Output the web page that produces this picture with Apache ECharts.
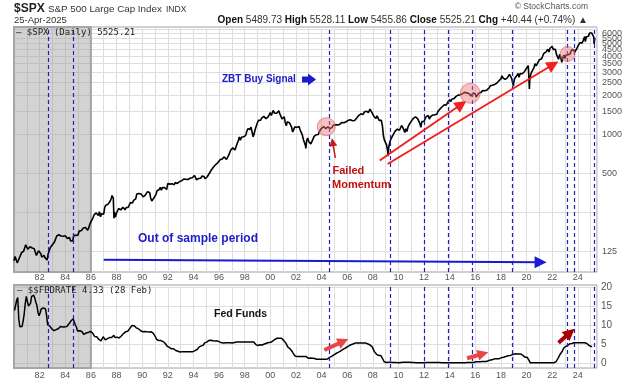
<!DOCTYPE html>
<html><head><meta charset="utf-8">
<script src="https://cdn.jsdelivr.net/npm/echarts@6/dist/echarts.min.js"></script>
<style>html,body{margin:0;padding:0;background:#fff}#c{width:638px;height:384px}</style>
</head><body><div id="c"></div>
<script>
// ---- S&P 500 monthly closes (Jan..Dec each year) ----
const spx1980s = [
114.2,113.7,102.1,106.3,111.2,114.2,121.7,122.4,125.5,127.5,140.5,135.8,
129.6,131.3,136.0,132.8,132.6,131.2,130.9,122.8,116.2,121.9,126.4,122.6,
120.4,113.1,112.0,116.4,111.9,109.6,107.1,119.5,120.4,133.7,138.5,140.6,
145.3,148.1,153.0,164.4,162.4,168.1,162.6,164.4,166.1,163.6,166.4,164.9,
163.4,157.1,159.2,160.1,150.6,153.2,150.7,166.7,166.1,166.1,163.6,167.2,
179.6,181.2,180.7,179.8,189.6,191.9,190.9,188.6,182.1,189.8,202.2,211.3,
211.8,226.9,238.9,235.5,247.4,250.8,236.1,252.9,231.3,244.0,249.2,242.2,
274.1,284.2,291.7,288.4,290.1,304.0,318.7,329.8,321.8,251.8,230.3,247.1,
257.1,267.8,258.9,261.3,262.2,273.5,272.0,261.5,271.9,279.0,273.7,277.7,
297.5,288.9,294.9,309.6,320.5,318.0,346.1,351.5,349.2,340.4,346.0,353.4];
const spx1990s = [
329.1,331.9,339.9,330.8,361.2,358.0,356.2,322.6,306.1,304.0,322.2,330.2,
343.9,367.1,375.2,375.3,389.8,371.2,387.8,395.4,387.9,392.5,375.2,417.1,
408.8,412.7,403.7,415.0,415.4,408.1,424.2,414.0,417.8,418.7,431.4,435.7,
438.8,443.4,451.7,440.2,450.2,450.5,448.1,463.6,458.9,467.8,461.8,466.5,
481.6,467.1,445.8,450.9,456.5,444.3,458.3,475.5,462.7,472.4,453.7,459.3,
470.4,487.4,500.7,514.7,533.4,544.8,562.1,561.9,584.4,581.5,605.4,615.9,
636.0,640.4,645.5,654.2,669.1,670.6,640.0,652.0,687.3,705.3,757.0,740.7,
786.2,790.8,757.1,801.3,848.3,885.1,954.3,899.5,947.3,914.6,955.4,970.4,
980.3,1049.3,1101.8,1111.8,1090.8,1133.8,1120.7,957.3,1017.0,1098.7,1163.6,1229.2,
1279.6,1238.3,1286.4,1335.2,1301.8,1372.7,1328.7,1320.4,1282.7,1362.9,1388.9,1469.3];
const spx2000s = [
1394.5,1366.4,1498.6,1452.4,1420.6,1454.6,1430.8,1517.7,1436.5,1429.4,1315.2,1320.3,
1366.0,1239.9,1160.3,1249.5,1255.8,1224.4,1211.2,1133.6,1040.9,1059.8,1139.5,1148.1,
1130.2,1106.7,1147.4,1076.9,1067.1,989.8,911.6,916.1,815.3,885.8,936.3,879.8,
855.7,841.2,848.2,916.9,963.6,974.5,990.3,1008.0,996.0,1050.7,1058.2,1111.9,
1131.1,1144.9,1126.2,1107.3,1120.7,1140.8,1101.7,1104.2,1114.6,1130.2,1173.8,1211.9,
1181.3,1203.6,1180.6,1156.9,1191.5,1191.3,1234.2,1220.3,1228.8,1207.0,1249.5,1248.3,
1280.1,1280.7,1294.8,1310.6,1270.1,1270.2,1276.7,1303.8,1335.9,1377.9,1400.6,1418.3,
1438.2,1406.8,1420.9,1482.4,1530.6,1503.4,1455.3,1474.0,1526.8,1549.4,1481.1,1468.4,
1378.6,1330.6,1322.7,1385.6,1400.4,1280.0,1267.4,1282.8,1166.4,968.8,896.2,903.3,
825.9,735.1,797.9,872.8,919.1,919.3,987.5,1020.6,1057.1,1036.2,1095.6,1115.1];
const spx2010s = [
1073.9,1104.5,1169.4,1186.7,1089.4,1030.7,1101.6,1049.3,1141.2,1183.3,1180.6,1257.6,
1286.1,1327.2,1325.8,1363.6,1345.2,1320.6,1292.3,1218.9,1131.4,1253.3,1246.9,1257.6,
1312.4,1365.7,1408.5,1397.9,1310.3,1362.2,1379.3,1406.6,1440.7,1412.2,1416.2,1426.2,
1498.1,1514.7,1569.2,1597.6,1630.7,1606.3,1685.7,1633.0,1681.6,1756.5,1805.8,1848.4,
1782.6,1859.5,1872.3,1884.0,1923.6,1960.2,1930.7,2003.4,1972.3,2018.1,2067.6,2058.9,
1995.0,2104.5,2067.9,2085.5,2107.4,2063.1,2103.8,1972.2,1920.0,2079.4,2080.4,2043.9,
1940.2,1932.2,2059.7,2065.3,2097.0,2098.9,2173.6,2171.0,2168.3,2126.2,2198.8,2238.8,
2278.9,2363.6,2362.7,2384.2,2411.8,2423.4,2470.3,2471.7,2519.4,2575.3,2647.6,2673.6,
2823.8,2713.8,2640.9,2648.1,2705.3,2718.4,2816.3,2901.5,2914.0,2711.7,2760.2,2506.9,
2704.1,2784.5,2834.4,2945.8,2752.1,2941.8,2980.4,2926.5,2976.7,3037.6,3141.0,3230.8];
const spx2020s = [
3225.5,2954.2,2584.6,2912.4,3044.3,3100.3,3271.1,3500.3,3363.0,3270.0,3621.6,3756.1,
3714.2,3811.2,3972.9,4181.2,4204.1,4297.5,4395.3,4522.7,4307.5,4605.4,4567.0,4766.2,
4515.6,4373.9,4530.4,4131.9,4132.2,3785.4,4130.3,3955.0,3585.6,3872.0,4080.1,3839.5,
4076.6,3970.2,4109.3,4169.5,4179.8,4450.4,4589.0,4507.7,4288.1,4193.8,4567.8,4769.8,
4845.7,5096.3,5254.4,5035.7,5277.5,5460.5,5522.3,5648.4,5762.5,5705.5,6032.4,5881.6,
6040.5,5954.5,5611.9,5525.2];
// intra-month extremes [decimal year, value]
const spxExtremes = [[1980.0,105.8],[1987.65,336.8],[1987.80,224.8],[1990.78,295.5],
[2000.23,1527.5],[2002.775,776.8],[2007.78,1565.2],[2009.185,676.5],[2011.76,1099.2],
[2018.98,2351.1],[2020.135,3386.2],[2020.225,2237.4],[2022.005,4796.6],[2022.78,3577.0],
[2024.54,5667.2],[2024.59,5186.3],[2025.135,6144.2],[2025.27,4982.8]];

// ---- Fed funds rate, monthly ----
const fed1980s = [
13.8,14.1,16.5,17.2,11.5,9.5,9.0,9.6,10.9,12.8,15.5,17.5,
17.0,15.0,14.7,15.7,17.5,17.9,17.8,17.0,15.9,15.1,13.3,12.4,
13.2,14.2,14.2,14.5,14.3,14.2,12.6,10.1,10.3,9.7,9.2,8.95,
8.7,8.5,8.8,8.8,8.6,9.0,9.4,9.6,9.5,9.5,9.3,9.5,
9.6,9.6,9.9,10.3,10.3,11.1,11.2,11.6,11.3,10.0,9.4,8.4,
8.35,8.5,8.6,8.3,8.0,7.5,7.9,7.9,7.9,8.0,8.05,8.3,
8.1,7.9,7.5,7.0,6.9,6.9,6.6,6.2,5.9,5.85,6.0,6.9,
6.4,6.1,6.1,6.4,6.85,6.7,6.6,6.7,7.2,7.3,6.7,6.8,
6.8,6.6,6.6,6.9,7.1,7.5,7.75,8.0,8.2,8.3,8.35,8.8,
9.1,9.35,9.85,9.85,9.8,9.5,9.25,9.0,9.0,9.0,8.55,8.45];
const fed1990s = [
8.2,8.25,8.3,8.25,8.2,8.3,8.15,8.1,8.2,8.1,7.8,7.3,
6.9,6.25,6.1,5.9,5.8,5.9,5.8,5.65,5.45,5.2,4.8,4.4,
4.0,4.1,4.0,3.75,3.8,3.75,3.25,3.3,3.2,3.1,3.1,2.9,
3.0,3.0,3.05,2.95,3.0,3.0,3.05,3.0,3.05,3.0,3.0,3.0,
3.05,3.25,3.35,3.55,4.0,4.25,4.25,4.5,4.75,4.75,5.3,5.45,
5.5,5.9,5.95,6.05,6.0,6.0,5.85,5.75,5.8,5.75,5.8,5.6,
5.55,5.2,5.3,5.2,5.25,5.4,5.3,5.2,5.3,5.25,5.3,5.3,
5.25,5.2,5.4,5.65,5.5,5.55,5.5,5.55,5.55,5.5,5.5,5.5,
5.55,5.5,5.5,5.45,5.5,5.55,5.5,5.5,5.5,5.1,4.85,4.7,
4.6,4.75,4.8,4.75,4.75,4.75,5.0,5.05,5.2,5.2,5.4,5.3];
const fed2000s = [
5.45,5.7,5.85,6.0,6.25,6.5,6.5,6.5,6.5,6.5,6.5,6.4,
5.95,5.5,5.3,4.8,4.2,3.95,3.75,3.65,3.05,2.5,2.1,1.8,
1.7,1.75,1.75,1.75,1.75,1.75,1.75,1.75,1.75,1.75,1.35,1.25,
1.25,1.3,1.25,1.25,1.25,1.2,1.0,1.0,1.0,1.0,1.0,1.0,
1.0,1.0,1.0,1.0,1.0,1.05,1.3,1.5,1.6,1.75,1.95,2.15,
2.3,2.5,2.6,2.8,3.0,3.05,3.25,3.5,3.6,3.8,4.0,4.15,
4.3,4.5,4.6,4.8,4.95,5.0,5.25,5.25,5.25,5.25,5.25,5.25,
5.25,5.25,5.25,5.25,5.25,5.25,5.25,5.0,4.95,4.75,4.5,4.25,
3.9,3.0,2.6,2.3,2.0,2.0,2.0,2.0,1.8,1.0,0.4,0.15,
0.15,0.22,0.18,0.15,0.18,0.21,0.16,0.16,0.15,0.12,0.12,0.12];
const fed2010s = [
0.11,0.13,0.16,0.2,0.2,0.18,0.18,0.19,0.19,0.19,0.19,0.18,
0.17,0.16,0.14,0.1,0.09,0.09,0.07,0.1,0.08,0.07,0.08,0.07,
0.08,0.1,0.13,0.14,0.16,0.16,0.16,0.13,0.14,0.16,0.16,0.16,
0.14,0.15,0.14,0.15,0.11,0.09,0.09,0.08,0.08,0.09,0.08,0.09,
0.07,0.07,0.08,0.09,0.09,0.1,0.09,0.09,0.09,0.09,0.09,0.12,
0.11,0.11,0.11,0.12,0.12,0.13,0.13,0.14,0.14,0.12,0.12,0.24,
0.34,0.38,0.36,0.37,0.37,0.38,0.39,0.4,0.4,0.4,0.41,0.54,
0.65,0.66,0.79,0.9,0.91,1.04,1.15,1.16,1.15,1.15,1.16,1.3,
1.41,1.42,1.51,1.69,1.7,1.82,1.91,1.91,1.95,2.19,2.2,2.27,
2.4,2.4,2.41,2.42,2.39,2.38,2.4,2.13,2.04,1.83,1.55,1.55];
const fed2020s = [
1.55,1.58,0.65,0.05,0.05,0.08,0.09,0.1,0.09,0.09,0.09,0.09,
0.09,0.08,0.07,0.07,0.06,0.08,0.1,0.09,0.08,0.08,0.08,0.08,
0.08,0.08,0.2,0.33,0.77,1.21,1.68,2.33,2.56,3.08,3.78,4.1,
4.33,4.57,4.65,4.83,5.06,5.08,5.12,5.33,5.33,5.33,5.33,5.33,
5.33,5.33,5.33,5.33,5.33,5.33,5.33,5.33,5.13,4.83,4.64,4.48,
4.33,4.33];

// ---- axes / annotations ----
const spxLabelTicks = [125,500,1000,1500,2000,2500,3000,3500,4000,4500,5000,5500,6000,6500];
const spxGridTicks = [125,250,500,1000,1500,2000,2500,3000,3500,4000,4500,5000,5500,6000,6500];
const fedTicks = [0,5,10,15,20];
const signalDates = [1982.65,1984.66,2004.6,2009.4,2012.0,2013.9,2015.75,2018.9,2023.2,2023.7,2025.28];
const shadeRange = [1980.0, 1986.0];

const L = v => Math.log10(v);
const FONT = '"Liberation Sans", Arial, sans-serif';
const MONO = '"DejaVu Sans Mono", monospace';

const monthlySpx = [].concat(spx1980s, spx1990s, spx2000s, spx2010s, spx2020s);
const spxPts = monthlySpx.map((v, i) => [1980 + (i + 1) / 12, v]).concat(spxExtremes);
spxPts.sort((a, b) => a[0] - b[0]);
const spxData = spxPts.map(p => [p[0], L(p[1])]);
const fedAll = [].concat(fed1980s, fed1990s, fed2000s, fed2010s, fed2020s);
const fedData = fedAll.map((v, i) => [1980 + (i + 0.5) / 12, v]);

function xAxisCfg(gi) {
  return {
    type: 'value', gridIndex: gi, min: 1980, max: 2025.5, interval: 1,
    axisLine: {show: false}, axisTick: {show: false},
    splitLine: {show: true, lineStyle: {color: '#dedede', width: 1}},
    axisLabel: {
      margin: gi === 0 ? 1 : 3, fontSize: 9, color: '#555', fontFamily: FONT,
      formatter: v => (Number.isInteger(v) && v % 2 === 0 && v > 1980 && v < 2025) ? String(v % 100).padStart(2, '0') : ''
    }
  };
}
const vLines = signalDates.map(d => ({xAxis: d}));
const dashStyle = {color: '#1f1fbf', width: 1.2, type: [4, 3]};
const shadeStyle = {color: 'rgba(150,150,150,0.42)', borderColor: '#a6a6a6', borderWidth: 2};

function arrow(x1, y1, x2, y2, color, width, size) {
  return [{coord: [x1, y1], symbol: 'none', lineStyle: {color, width, type: 'solid'}},
          {coord: [x2, y2], symbol: 'triangle', symbolSize: size}];
}

function txt(x, y, text, font, fill, align) {
  return {type: 'text', x, y, z: 100, zlevel: 0,
    style: {text, font, fill, align: align || 'left', verticalAlign: 'middle',
            textAlign: align || 'left', textVerticalAlign: 'middle'}};
}

const option = {
  animation: false,
  textStyle: {fontFamily: FONT},
  grid: [
    {left: 14, top: 27, width: 583, height: 245, show: true, borderColor: '#a0a0a0', borderWidth: 1},
    {left: 14, top: 285, width: 583, height: 83, show: true, borderColor: '#a0a0a0', borderWidth: 1}
  ],
  xAxis: [xAxisCfg(0), xAxisCfg(1)],
  yAxis: [
    {type: 'value', gridIndex: 0, position: 'right', min: L(86.7), max: L(6717),
     axisLine: {show: false}, axisTick: {show: false, customValues: spxGridTicks.map(L)},
     splitLine: {show: true, lineStyle: {color: '#dedede'}},
     axisLabel: {customValues: spxLabelTicks.map(L), formatter: v => String(Math.round(Math.pow(10, v))),
                 fontSize: 9, color: '#555', margin: 5, hideOverlap: false, fontFamily: FONT}},
    {type: 'value', gridIndex: 1, position: 'right', min: -1.3, max: 20.5,
     axisLine: {show: false}, axisTick: {show: false, customValues: fedTicks},
     splitLine: {show: true, lineStyle: {color: '#dedede'}},
     axisLabel: {customValues: fedTicks, fontSize: 10, color: '#555', margin: 4, fontFamily: FONT}}
  ],
  series: [
    {type: 'line', name: 'shadeTop', xAxisIndex: 0, yAxisIndex: 0, data: [], z: 1, silent: true,
     markArea: {silent: true, itemStyle: shadeStyle, data: [[{xAxis: shadeRange[0]}, {xAxis: shadeRange[1]}]]}},
    {type: 'line', name: 'SPX', xAxisIndex: 0, yAxisIndex: 0, data: spxData, z: 3,
     showSymbol: false, symbol: 'none', lineStyle: {color: '#000', width: 1.6},
     markPoint: {silent: true, label: {show: false}, symbol: 'circle',
       itemStyle: {color: 'rgba(240,115,115,0.45)', borderColor: 'rgba(215,90,90,0.6)', borderWidth: 1},
       data: [{coord: [2004.37, L(1144)], symbolSize: 18},
              {coord: [2015.6, L(2070)], symbolSize: 20},
              {coord: [2023.2, L(4160)], symbolSize: 15}]}},
    {type: 'line', name: 'sigTop', xAxisIndex: 0, yAxisIndex: 0, data: [], z: 4, silent: true,
     markLine: {silent: true, symbol: 'none', label: {show: false}, lineStyle: dashStyle, data: vLines}},
    {type: 'line', name: 'arrowsTop', xAxisIndex: 0, yAxisIndex: 0, data: [], z: 5, silent: true,
     markLine: {silent: true, label: {show: false}, lineStyle: {type: 'solid'}, data: [
       arrow(1987.0, L(108), 2021.1, L(103), '#1a1ad0', 2, 12),
       arrow(2008.54, L(628), 2014.92, L(1703), '#ee2020', 2, 12),
       arrow(2009.16, L(590), 2022.08, L(3452), '#ee2020', 2, 12),
       arrow(2005.08, L(657), 2004.87, L(870), '#c81818', 1.5, 8)
     ]}},
    {type: 'line', name: 'shadeBot', xAxisIndex: 1, yAxisIndex: 1, data: [], z: 1, silent: true,
     markArea: {silent: true, itemStyle: shadeStyle, data: [[{xAxis: shadeRange[0]}, {xAxis: shadeRange[1]}]]}},
    {type: 'line', name: 'FEDRATE', xAxisIndex: 1, yAxisIndex: 1, data: fedData, z: 3,
     showSymbol: false, symbol: 'none', lineStyle: {color: '#000', width: 1.5}},
    {type: 'line', name: 'sigBot', xAxisIndex: 1, yAxisIndex: 1, data: [], z: 4, silent: true,
     markLine: {silent: true, symbol: 'none', label: {show: false}, lineStyle: dashStyle, data: vLines}},
    {type: 'line', name: 'arrowsBot', xAxisIndex: 1, yAxisIndex: 1, data: [], z: 5, silent: true,
     markLine: {silent: true, label: {show: false}, lineStyle: {type: 'solid'}, data: [
       arrow(2004.22, 3.43, 2005.7, 5.7, '#e64848', 4, 11),
       arrow(2015.36, 1.25, 2016.6, 2.45, '#e64848', 4, 11),
       arrow(2022.5, 5.35, 2023.4, 8.0, '#a80000', 4, 12)
     ]}}
  ],
  graphic: {elements: [
    txt(14, 9, '$SPX', 'bold 12px ' + FONT, '#222'),
    txt(48, 9, 'S&P 500 Large Cap Index', '9.8px ' + FONT, '#333'),
    txt(166, 9.5, 'INDX', '8.5px ' + FONT, '#333'),
    txt(14, 20.5, '25-Apr-2025', '9.5px ' + FONT, '#333'),
    {type: 'text', x: 588, y: 20.5, z: 100, style: {
      text: '{b|Open} 5489.73 {b|High} 5528.11 {b|Low} 5455.86 {b|Close} 5525.21 {b|Chg} +40.44 (+0.74%) ▲',
      font: '10px ' + FONT, fill: '#333', align: 'right', verticalAlign: 'middle', textAlign: 'right', textVerticalAlign: 'middle',
      rich: {b: {font: 'bold 10px ' + FONT, fill: '#111'}}}},
    txt(588, 6.5, '© StockCharts.com', '8.5px ' + FONT, '#555', 'right'),
    txt(16, 33, '— $SPX (Daily) 5525.21', '9px ' + MONO, '#222'),
    txt(17, 291, '— $$FEDRATE 4.33 (28 Feb)', '9px ' + MONO, '#222'),
    txt(222, 79, 'ZBT Buy Signal', 'bold 10px ' + FONT, '#1c1ccc'),
    {type: 'polygon', z: 100, shape: {points: [[302,76.5],[308,76.5],[308,73.5],[316,79.5],[308,85.5],[308,82.5],[302,82.5]]}, style: {fill: '#1c1ccc'}},
    txt(138, 238.5, 'Out of sample period', 'bold 12px ' + FONT, '#1c1ccc'),
    txt(332.5, 171, 'Failed', 'bold 11px ' + FONT, '#c01010'),
    txt(332, 185, 'Momentum', 'bold 11px ' + FONT, '#c01010'),
    txt(214, 314, 'Fed Funds', 'bold 10.5px ' + FONT, '#111')
  ]}
};
const chart = echarts.init(document.getElementById('c'), null, {renderer: 'canvas'});
chart.setOption(option);
</script>
</body></html>
